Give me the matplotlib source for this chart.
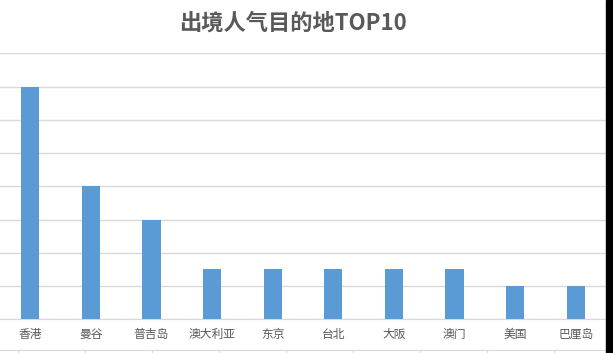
import matplotlib
matplotlib.use("Agg")
import matplotlib.pyplot as plt
from matplotlib.patches import Rectangle

plt.rcParams['font.family'] = ['Noto Sans CJK SC', 'DejaVu Sans']

# destinations and their popularity
places = ['香港', '曼谷', '普吉岛', '澳大利亚', '东京', '台北', '大阪', '澳门', '美国', '巴厘岛']
counts = [7, 4, 3, 1.5, 1.5, 1.5, 1.5, 1.5, 1, 1]

W, H = 613, 353
fig = plt.figure(figsize=(W / 100, H / 100), dpi=100)

bar_color = '#5B9BD5'
grid_color = '#D9D9D9'
text_color = '#595959'

ax = fig.add_axes([0, (H - 319.3) / H, 606 / W, (319.3 - 53.3) / H])
ax.bar(range(len(places)), counts, width=0.3, color=bar_color, zorder=3)
ax.set_xlim(-0.5, len(places) - 0.5)
ax.set_ylim(0, 8)
ax.set_yticks(range(0, 9))
ax.yaxis.grid(True, color=grid_color, linewidth=1)
ax.set_axisbelow(True)
for s in ['left', 'right', 'top']:
    ax.spines[s].set_visible(False)
ax.spines['bottom'].set_color(grid_color)
ax.tick_params(axis='y', left=False, labelleft=False)
ax.tick_params(axis='x', length=0, pad=6, labelsize=8.5, labelcolor=text_color)
ax.set_xticks(range(len(places)))
ax.set_xticklabels(places)

fig.text(293 / W, 1 - 23 / H, '出境人气目的地TOP10', ha='center', va='center',
         fontsize=16, fontweight='bold', color=text_color)

# edge of the next chart peeking in at the bottom
ax2 = fig.add_axes([0, 0, 606 / W, 3 / H])
ax2.set_xlim(-18 / 67, 606 / 67 - 18 / 67)
ax2.set_xticks(range(0, 9))
ax2.set_yticks([])
for s in ['left', 'right', 'bottom']:
    ax2.spines[s].set_visible(False)
ax2.spines['top'].set_color(grid_color)
ax2.tick_params(axis='x', top=True, bottom=False, direction='in', length=4,
                color=grid_color, labelbottom=False)
ax2.patch.set_alpha(0)

fig.add_artist(Rectangle((606 / W, 0), 7 / W, 1, transform=fig.transFigure,
                         color='black'))

fig.savefig('out.png', dpi=100)
